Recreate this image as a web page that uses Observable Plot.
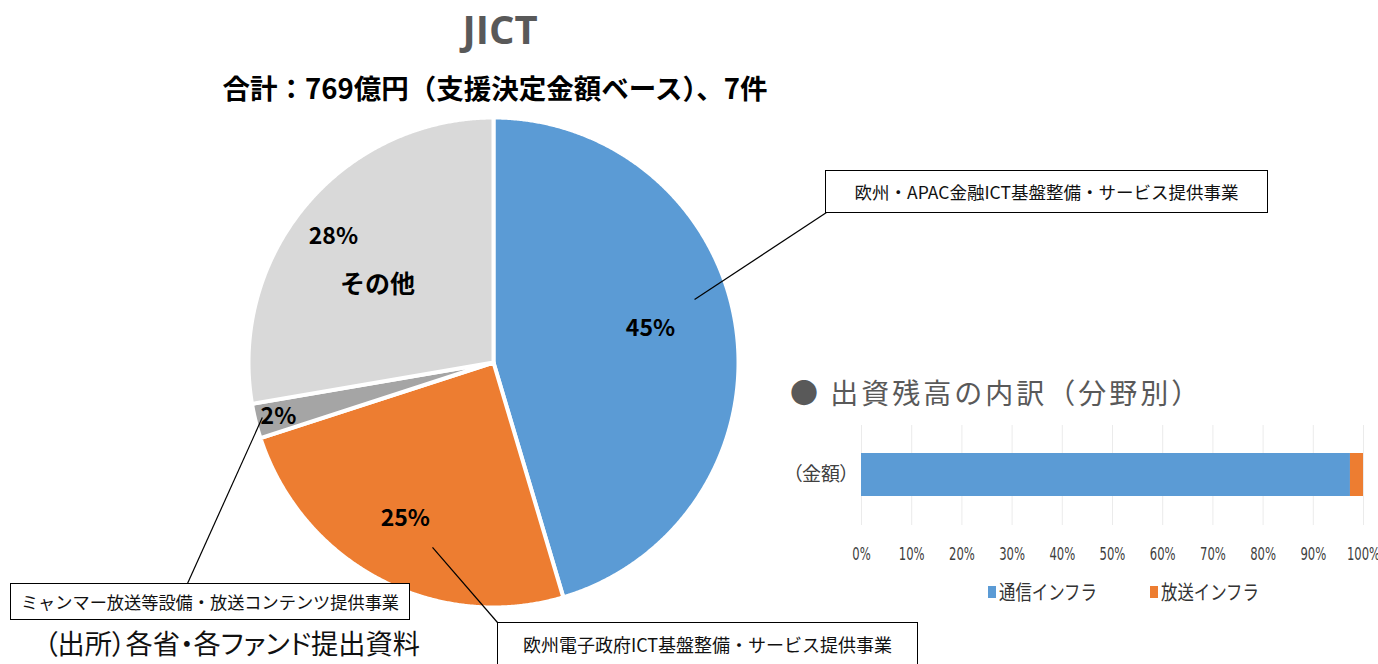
<!DOCTYPE html>
<html><head><meta charset="utf-8">
<script src="https://cdn.jsdelivr.net/npm/d3@7"></script>
<script src="https://cdn.jsdelivr.net/npm/@observablehq/plot@0.6"></script>
<style>
body{margin:0;background:#fff;}
#wrap{position:relative;width:1378px;height:664px;overflow:hidden;font-family:"Noto Sans CJK JP",sans-serif;}
.abs{position:absolute;white-space:nowrap;line-height:1;}
.box{position:absolute;border:1.5px solid #000;background:#fff;box-sizing:border-box;display:flex;align-items:center;justify-content:center;color:#111;white-space:nowrap;line-height:1;}
.palt{font-feature-settings:"palt";}
#pie,#bar{position:absolute;}
.leg{position:absolute;display:flex;align-items:center;font-size:20px;color:#333;line-height:1;}
.leg i{display:inline-block;width:8px;height:12px;margin-right:3px;}
.leg span{display:inline-block;transform:scaleX(0.82);transform-origin:left center;}
</style></head><body><div id="wrap"></div>
<script>
// ---- data ----
const titleText = "JICT";
const subtitleText = "合計：769億円（支援決定金額ベース）、7件";
const sliceNames = ["欧州・APAC金融ICT基盤整備・サービス提供事業", "欧州電子政府ICT基盤整備・サービス提供事業", "ミャンマー放送等設備・放送コンテンツ提供事業", "その他"];
const sliceShares = [45.4, 24.6, 2.3, 27.7];
const sliceLabels = ["45%", "25%", "2%", "28%"];
const sliceColors = ["#5B9BD5", "#ED7D31", "#A5A5A5", "#D9D9D9"];
const otherLabel = "その他";
const barTitle = "● 出資残高の内訳（分野別）";
const barCategory = ["（金額）"];
const barSeries = ["通信インフラ", "放送インフラ"];
const barValues = [97.4, 2.6];
const barColors = ["#5B9BD5", "#ED7D31"];
const xTicks = [0, 10, 20, 30, 40, 50, 60, 70, 80, 90, 100];
const sourceText = "（出所）各省・各ファンド提出資料";

// ---- layout ----
const W = 1378, H = 664;
const cx = 493, cy = 362, R = 245;
const wrap = document.getElementById("wrap");

// pie geometry from data
const arcs = d3.pie().sort(null).value(d => d)(sliceShares);
const polar = (a, r) => ({x: r * Math.sin(a), y: r * Math.cos(a)});
const polyPts = [];
arcs.forEach((a, i) => {
  polyPts.push({k: i, x: 0, y: 0, color: sliceColors[i]});
  const n = Math.max(2, Math.ceil((a.endAngle - a.startAngle) / 0.005));
  for (let j = 0; j <= n; j++) {
    const t = a.startAngle + (a.endAngle - a.startAngle) * j / n;
    const p = polar(t, 1);
    polyPts.push({k: i, x: p.x, y: p.y, color: sliceColors[i]});
  }
});

// labels at slice mid-angles, nudged by pixel offsets
const labelR = [0.66, 0.66, 0.9, 0.7];
const labelOff = [[-3, -11], [-13, 13], [-1, 1], [-29, -15]];
const labels = arcs.map((a, i) => {
  const p = polar((a.startAngle + a.endAngle) / 2, labelR[i]);
  return {x: p.x + labelOff[i][0] / R, y: p.y - labelOff[i][1] / R, text: sliceLabels[i], size: 23};
});
{
  const a = arcs[3];
  const p = polar((a.startAngle + a.endAngle) / 2, labelR[3]);
  labels.push({x: p.x + 15 / R, y: p.y - 33 / R, text: otherLabel, size: 25});
}

// callout boxes (pixel layout) and leader lines
const boxes = [
  {i: 0, left: 825, top: 170, w: 443, h: 43, fs: 17.5, corner: [826, 212]},
  {i: 1, left: 497, top: 622, w: 421, h: 52, fs: 18, corner: [497, 622], padB: 8},
  {i: 2, left: 10, top: 583, w: 400, h: 37, fs: 17.2, corner: [187, 583]}
];
const leaderStart = [[72.6, 0.86], [198.25, 0.795], [256.6, 0.97]];
const toUnit = ([px, py]) => ({x: (px - cx) / R, y: (cy - py) / R});
const leaders = boxes.map((b, j) => {
  const s = polar(leaderStart[j][0] * Math.PI / 180, leaderStart[j][1]);
  const e = toUnit(b.corner);
  return {x1: s.x, y1: s.y, x2: e.x, y2: e.y};
});

const pie = Plot.plot({
  width: W, height: H, margin: 0,
  x: {domain: [-1, 1], range: [cx - R, cx + R], axis: null},
  y: {domain: [-1, 1], range: [cy + R, cy - R], axis: null},
  color: {type: "identity"},
  style: {fontFamily: "'Noto Sans CJK JP', sans-serif", background: "transparent"},
  marks: [
    Plot.line(polyPts, {x: "x", y: "y", z: "k", fill: "color", stroke: "#fff", strokeWidth: 4, strokeLinejoin: "round", curve: "linear-closed"}),
    Plot.link(leaders, {x1: "x1", y1: "y1", x2: "x2", y2: "y2", stroke: "#000", strokeWidth: 1.2}),
    Plot.text(labels, {x: "x", y: "y", text: "text", fontSize: d => d.size, fontWeight: "bold", fill: "#000"})
  ]
});
pie.id = "pie";
pie.style.left = "0px"; pie.style.top = "0px";
wrap.appendChild(pie);

// bar chart
const barRows = barSeries.map((s, i) => ({series: s, value: barValues[i], color: barColors[i], cat: barCategory[0]}));
const bar = Plot.plot({
  width: 588, height: 155, marginLeft: 71, marginRight: 15, marginTop: 10, marginBottom: 45,
  x: {domain: [0, 100], axis: null},
  y: {domain: barCategory, padding: 0.389, axis: null},
  color: {type: "identity"},
  style: {background: "transparent", overflow: "visible"},
  marks: [
    Plot.ruleX(xTicks, {stroke: "#ebebeb", strokeWidth: 1}),
    Plot.barX(barRows, {x: "value", y: "cat", fill: "color"}),
    Plot.text(xTicks, {x: d => d, frameAnchor: "bottom", dy: 34, text: d => d + "%", fontSize: 17, fill: "#404040", fontFamily: "'Liberation Sans Narrow', 'DejaVu Sans Condensed', sans-serif"}),
    Plot.text(barCategory, {y: d => d, frameAnchor: "left", dx: -12, textAnchor: "end", fontSize: 19, fill: "#404040", fontFamily: "'Noto Sans CJK JP', sans-serif"})
  ]
});
// condense the percent tick labels like the reference's narrow font
d3.select(bar).selectAll("text").filter(function() { return /%$/.test(this.textContent); })
  .each(function() {
    const t = this.getAttribute("transform") || "";
    this.setAttribute("transform", t + " scale(0.76,1)");
  });
bar.id = "bar";
bar.style.left = "790px"; bar.style.top = "415px";
bar.style.fontFeatureSettings = '"palt"';
wrap.appendChild(bar);

// texts
function addText(txt, css, cls) {
  const d = document.createElement("div");
  d.className = "abs " + (cls || "");
  d.textContent = txt;
  Object.assign(d.style, css);
  wrap.appendChild(d);
  return d;
}
addText(titleText, {left: "500px", top: "9px", transform: "translateX(-50%)", fontFamily: "'Open Sans', sans-serif", fontWeight: "700", fontSize: "40px", color: "#595959"});
addText(subtitleText, {left: "495px", top: "74px", transform: "translateX(-50%)", fontWeight: "700", fontSize: "27.5px", color: "#000"});
addText(barTitle, {left: "790px", top: "378px", fontSize: "28px", letterSpacing: "3px", color: "#595959"});
addText(sourceText, {left: "44px", top: "629px", fontSize: "27.2px", color: "#111"}, "palt");

boxes.forEach(b => {
  const d = document.createElement("div");
  d.className = "box";
  Object.assign(d.style, {left: b.left + "px", top: b.top + "px", width: b.w + "px", height: b.h + "px", fontSize: b.fs + "px"});
  if (b.padB) d.style.paddingBottom = b.padB + "px";
  d.textContent = sliceNames[b.i];
  wrap.appendChild(d);
});

// legend
const legPos = [988, 1150];
barSeries.forEach((s, i) => {
  const d = document.createElement("div");
  d.className = "leg";
  Object.assign(d.style, {left: legPos[i] + "px", top: "582px"});
  d.innerHTML = `<i style="background:${barColors[i]}"></i><span>${s}</span>`;
  wrap.appendChild(d);
});
</script></body></html>
